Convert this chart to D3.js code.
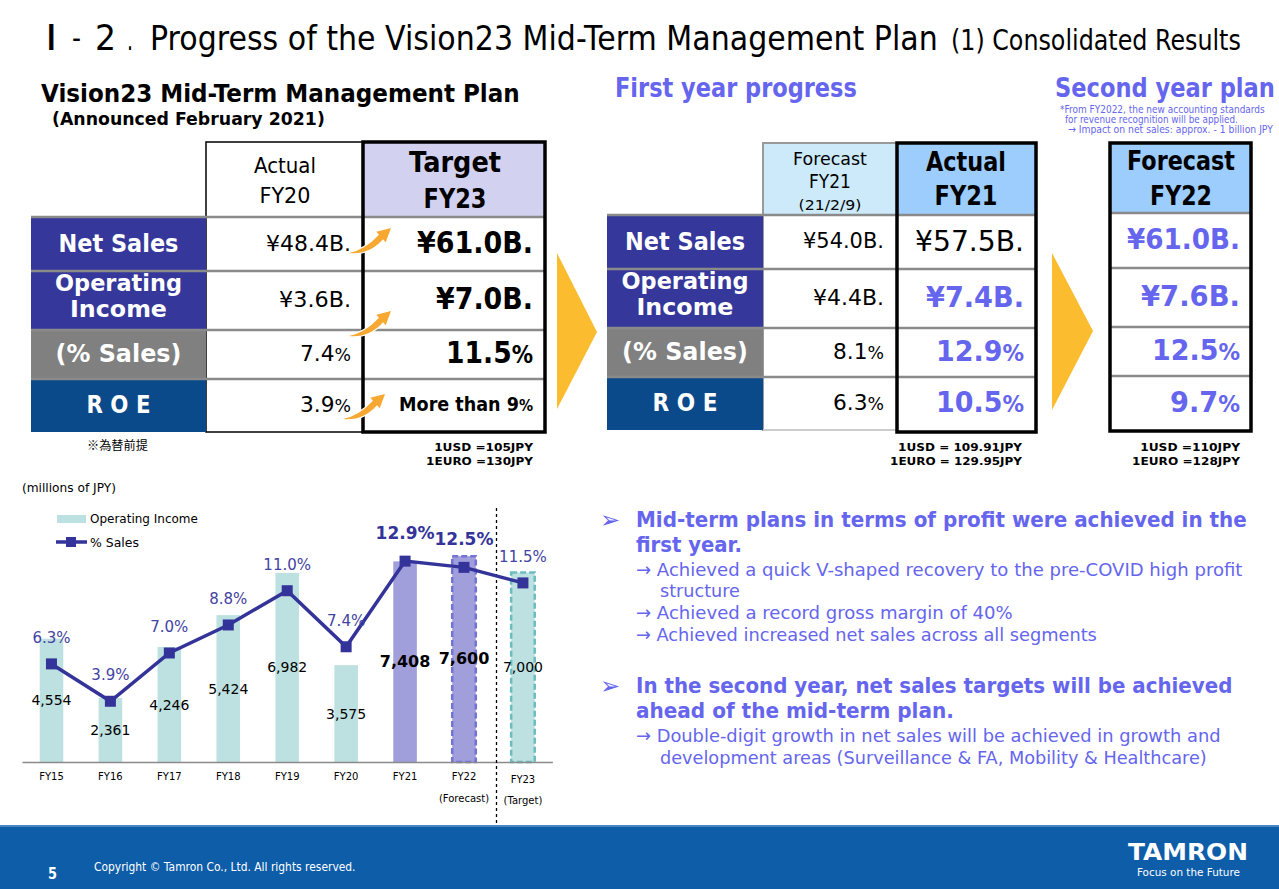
<!DOCTYPE html>
<html><head><meta charset="utf-8">
<script src="https://cdn.jsdelivr.net/npm/d3@7"></script>
<style>html,body{margin:0;padding:0;background:#fff;}svg{display:block;}</style>
</head><body>
<script>
// ---------------- DATA ----------------
const years = ["FY15","FY16","FY17","FY18","FY19","FY20","FY21","FY22","FY23"];
const opIncome = [4554, 2361, 4246, 5424, 6982, 3575, 7408, 7600, 7000];
const pctSales = [6.3, 3.9, 7.0, 8.8, 11.0, 7.4, 12.9, 12.5, 11.5];
const yearNotes = ["", "", "", "", "", "", "", "(Forecast)", "(Target)"];
const boldYears = ["FY21", "FY22"];

const rowLabels = [["Net Sales"], ["Operating", "Income"], ["(% Sales)"], ["R O E"]];
const fy20Actual = ["¥48.4B.", "¥3.6B.", "7.4%", "3.9%"];
const fy23Target = ["¥61.0B.", "¥7.0B.", "11.5%", "More than 9%"];
const fy21Forecast = ["¥54.0B.", "¥4.4B.", "8.1%", "6.3%"];
const fy21Actual = ["¥57.5B.", "¥7.4B.", "12.9%", "10.5%"];
const fy22Forecast = ["¥61.0B.", "¥7.6B.", "12.5%", "9.7%"];

// ---------------- SETUP ----------------
const F = "'DejaVu Sans', Verdana, sans-serif";
const BLUE = "#6565ee";
const NAVY = "#333399";
const svg = d3.select("body").append("svg").attr("width", 1279).attr("height", 889);
svg.append("rect").attr("width", 1279).attr("height", 889).attr("fill", "#fff");

// text helper: when a target width is given, the font is scaled so its natural
// width equals the target, and the height is restored with a vertical scale.
function txt(g, s, x, y, o = {}) {
  const fs = o.fs || 14;
  const t = g.append("text").attr("x", x).attr("y", y)
    .attr("font-family", o.ff || F).attr("font-size", fs)
    .attr("font-weight", o.fw || "normal").attr("fill", o.c || "#000")
    .attr("text-anchor", o.a || "start");
  if (o.pct && /%$/.test(s)) {
    t.append("tspan").text(s.slice(0, -1));
    t.append("tspan").attr("font-size", "0.8em").text("%");
  } else t.text(s);
  if (o.w) {
    const nat = t.node().getComputedTextLength();
    if (nat > 0) {
      const k = o.w / nat;
      t.attr("font-size", fs * k)
        .attr("transform", `translate(${x},${y}) scale(1,${1 / k}) translate(${-x},${-y})`);
    }
  }
  return t;
}

// ---------------- TITLE ----------------
txt(svg, "Ⅰ", 45, 50, {fs: 36, ff: "'Liberation Serif', serif", w: 13});
txt(svg, "-", 72, 48, {fs: 30, w: 9});
txt(svg, "2", 95, 50, {fs: 36, w: 21});
txt(svg, ".", 127, 50, {fs: 30, w: 6});
txt(svg, "Progress of the Vision23 Mid-Term Management Plan", 150, 50, {fs: 34, w: 788});
txt(svg, "(1) Consolidated Results", 951, 50, {fs: 28, w: 290});

txt(svg, "Vision23 Mid-Term Management Plan", 41, 102, {fs: 24, fw: "bold", w: 479});
txt(svg, "(Announced February 2021)", 52, 125, {fs: 17, fw: "bold", w: 273});
txt(svg, "First year progress", 615, 97, {fs: 26, fw: "bold", c: BLUE, w: 242});
txt(svg, "Second year plan", 1055, 97, {fs: 26, fw: "bold", c: BLUE, w: 220});
txt(svg, "*From FY2022, the new accounting standards", 1060, 113, {fs: 11, c: BLUE, w: 205});
txt(svg, "for  revenue recognition will be applied.", 1065, 123, {fs: 11, c: BLUE, w: 173});
txt(svg, "→ Impact on net sales: approx. - 1 billion JPY", 1068, 133, {fs: 11, c: BLUE, w: 205});

// ---------------- TABLE HELPERS ----------------
const labelFill = ["#35379a", "#35379a", "#808080", "#0b4a8a"];
function labelCells(g, x0, x1, rows, tl) {
  rowLabels.forEach((lines, i) => {
    g.append("rect").attr("x", x0).attr("y", rows[i]).attr("width", x1 - x0)
      .attr("height", rows[i + 1] - rows[i]).attr("fill", labelFill[i]);
    const cy = (rows[i] + rows[i + 1]) / 2;
    const cx = (x0 + x1) / 2;
    if (lines.length === 2) {
      txt(g, lines[0], cx, cy - 9.5, {fs: 22.5, fw: "bold", c: "#fff", a: "middle", w: tl[i][0]});
      txt(g, lines[1], cx, cy + 17, {fs: 22.5, fw: "bold", c: "#fff", a: "middle", w: tl[i][1]});
    } else {
      txt(g, lines[0], cx, cy + 8, {fs: 25, fw: "bold", c: "#fff", a: "middle", w: tl[i][0]});
    }
  });
}
function grid(g, x0, x1, rows, color = "#8a8a8a") {
  rows.slice(0, 4).forEach(y => {
    g.append("line").attr("x1", x0).attr("x2", x1).attr("y1", y).attr("y2", y)
      .attr("stroke", color).attr("stroke-width", 2.5);
  });
}
function thickBox(g, x0, x1, y0, y1) {
  g.append("rect").attr("x", x0).attr("y", y0).attr("width", x1 - x0).attr("height", y1 - y0)
    .attr("fill", "none").attr("stroke", "#000").attr("stroke-width", 3.5);
}
function valueCol(g, vals, xr, rows, o, widths) {
  vals.forEach((v, i) => {
    const cy = (rows[i] + rows[i + 1]) / 2;
    const oo = Object.assign({a: "end", pct: true}, typeof o === "function" ? o(i) : o);
    txt(g, v, xr, cy + oo.fs * 0.3, Object.assign(oo, {w: widths[i]}));
  });
}

// ---------------- LEFT TABLE ----------------
const gL = svg.append("g");
const Lrows = [217, 271, 330, 379, 432];
gL.append("rect").attr("x", 206).attr("y", 142).attr("width", 157).attr("height", 290)
  .attr("fill", "#fff").attr("stroke", "#000").attr("stroke-width", 1.5);
gL.append("rect").attr("x", 363).attr("y", 142).attr("width", 182).attr("height", 75).attr("fill", "#d2d2f0");
labelCells(gL, 31, 206, Lrows, [[120], [127, 97], [126], [64]]);
grid(gL, 31, 545, Lrows);
txt(gL, "Actual", 285, 173, {fs: 22, a: "middle", w: 62});
txt(gL, "FY20", 285, 203, {fs: 22, a: "middle", w: 51});
txt(gL, "Target", 455, 172, {fs: 29, fw: "bold", a: "middle", w: 92});
txt(gL, "FY23", 455, 208, {fs: 26, fw: "bold", a: "middle", w: 63});
valueCol(gL, fy20Actual, 351, Lrows, {fs: 22}, [85, 72, 51, 51]);
valueCol(gL, fy23Target, 533, Lrows, i => i === 3 ? {fs: 20, fw: "bold"} : {fs: 30, fw: "bold"}, [116, 97, 87, 134]);
thickBox(gL, 363, 545, 142, 432);
// orange arrows
const arrowPath = "M0,0 Q16,-3 30,-18.2 L27.3,-21.2 L42,-25 L36.7,-10.8 L34,-13.8 Q20,2 0,0 Z";
[[349, 253], [349, 336], [343, 419]].forEach(([ax, ay]) => {
  gL.append("path").attr("d", arrowPath).attr("transform", `translate(${ax},${ay})`)
    .attr("fill", "#f6a831").attr("stroke", "#fff").attr("stroke-width", 2.5)
    .attr("paint-order", "stroke");
});
txt(gL, "※為替前提", 87, 450, {fs: 12, ff: "'Noto Sans CJK JP', sans-serif", w: 61});
txt(gL, "1USD =105JPY", 533, 451, {fs: 11, fw: "bold", a: "end", w: 99});
txt(gL, "1EURO =130JPY", 533, 465, {fs: 11, fw: "bold", a: "end", w: 107});

// chevrons
const chev = [[[557, 253], [597, 332], [557, 409]], [[1052, 253], [1093, 331], [1052, 410]]];
chev.forEach(p => svg.append("path").attr("d", "M" + p.join("L") + "Z").attr("fill", "#fbbc2f"));

// ---------------- MIDDLE TABLE ----------------
const gM = svg.append("g");
const Mrows = [215, 269, 328, 377, 430];
gM.append("rect").attr("x", 763).attr("y", 143).attr("width", 134).attr("height", 72).attr("fill", "#cdeafb");
gM.append("rect").attr("x", 897).attr("y", 143).attr("width", 139).attr("height", 72).attr("fill", "#9ccdfd");
gM.append("rect").attr("x", 763).attr("y", 143).attr("width", 134).attr("height", 287)
  .attr("fill", "none").attr("stroke", "#9a9a9a").attr("stroke-width", 2);
labelCells(gM, 607, 763, Mrows, [[120], [127, 97], [126], [65]]);
grid(gM, 607, 1036, Mrows);
gM.append("line").attr("x1", 763).attr("x2", 897).attr("y1", 430).attr("y2", 430).attr("stroke", "#ccc").attr("stroke-width", 2);
txt(gM, "Forecast", 830, 165, {fs: 18, a: "middle", w: 74});
txt(gM, "FY21", 830, 188, {fs: 19, a: "middle", w: 42});
txt(gM, "(21/2/9)", 830, 210, {fs: 14, a: "middle", w: 63});
txt(gM, "Actual", 966, 171, {fs: 27, fw: "bold", a: "middle", w: 80});
txt(gM, "FY21", 966, 205, {fs: 26, fw: "bold", a: "middle", w: 63});
valueCol(gM, fy21Forecast, 884, Mrows, {fs: 21}, [81, 71, 51, 51]);
valueCol(gM, fy21Actual, 1024, Mrows, i => i === 0 ? {fs: 29} : {fs: 29, fw: "bold", c: BLUE}, [109, 98, 88, 88]);
thickBox(gM, 897, 1036, 143, 432);
txt(gM, "1USD = 109.91JPY", 1022, 451, {fs: 11, fw: "bold", a: "end", w: 124});
txt(gM, "1EURO = 129.95JPY", 1022, 465, {fs: 11, fw: "bold", a: "end", w: 132});

// ---------------- RIGHT TABLE ----------------
const gR = svg.append("g");
const Rrows = [213, 268, 327, 376, 431];
gR.append("rect").attr("x", 1110).attr("y", 143).attr("width", 141).attr("height", 70).attr("fill", "#9ccdfd");
grid(gR, 1110, 1251, Rrows);
txt(gR, "Forecast", 1181, 170, {fs: 27, fw: "bold", a: "middle", w: 108});
txt(gR, "FY22", 1181, 205, {fs: 26, fw: "bold", a: "middle", w: 62});
valueCol(gR, fy22Forecast, 1240, Rrows, {fs: 29, fw: "bold", c: BLUE}, [113, 99, 88, 70]);
thickBox(gR, 1110, 1251, 143, 431);
txt(gR, "1USD =110JPY", 1240, 451, {fs: 11, fw: "bold", a: "end", w: 100});
txt(gR, "1EURO =128JPY", 1240, 465, {fs: 11, fw: "bold", a: "end", w: 108});

// ---------------- CHART ----------------
const gC = svg.append("g");
const x = d3.scaleBand().domain(years).range([22, 552.4]).paddingInner(0.6).paddingOuter(0.3);
const yB = d3.scaleLinear().domain([0, 8050]).range([762, 544]);
const yP = d3.scaleLinear().domain([0, 14]).range([762, 544]);
const bw = x.bandwidth();
const data = years.map((y, i) => ({year: y, v: opIncome[i], p: pctSales[i], note: yearNotes[i]}));

txt(gC, "(millions of JPY)", 22, 492, {fs: 12, w: 94});

const fillOf = d => d.year === "FY21" || d.year === "FY22" ? "#a09fdc" : "#bde0e0";
gC.selectAll("rect.bar").data(data).join("rect").attr("class", "bar")
  .attr("x", d => x(d.year)).attr("width", bw)
  .attr("y", d => yB(d.v)).attr("height", d => yB(0) - yB(d.v))
  .attr("fill", fillOf)
  .attr("stroke", d => d.note === "(Forecast)" ? "#7373d6" : d.note === "(Target)" ? "#6cbdbf" : "none")
  .attr("stroke-width", 2.5).attr("stroke-dasharray", "6,3");

// axis
const ax = gC.append("g").attr("transform", `translate(0,${yB(0)})`)
  .call(d3.axisBottom(x).tickSize(0).tickSizeOuter(0).tickPadding(11));
ax.select(".domain").attr("stroke", "#8a8a8a").attr("stroke-width", 1.5);
ax.selectAll("text").attr("font-family", F).attr("font-size", 10).attr("fill", "#000")
  .attr("dy", d => d === "FY23" ? "1.0em" : "0.71em");
data.filter(d => d.note).forEach(d => {
  txt(gC, d.note, x(d.year) + bw / 2, d.note === "(Target)" ? 804 : 802, {fs: 10, a: "middle"});
});

// dashed separator
gC.append("line").attr("x1", 496.5).attr("x2", 496.5).attr("y1", 508).attr("y2", 825)
  .attr("stroke", "#000").attr("stroke-width", 1.3).attr("stroke-dasharray", "3,3");

// line
const line = d3.line().x(d => x(d.year) + bw / 2).y(d => yP(d.p));
gC.append("path").datum(data).attr("d", line).attr("fill", "none")
  .attr("stroke", NAVY).attr("stroke-width", 3.5);
gC.selectAll("rect.mk").data(data).join("rect").attr("class", "mk")
  .attr("x", d => x(d.year) + bw / 2 - 5.5).attr("y", d => yP(d.p) - 5.5)
  .attr("width", 11).attr("height", 11).attr("fill", NAVY);

// labels
data.forEach(d => {
  const b = boldYears.includes(d.year);
  const cx = x(d.year) + bw / 2;
  txt(gC, d3.format(".1f")(d.p) + "%", cx, yP(d.p) - (b ? 22 : 21),
    {fs: b ? 17 : 15, fw: b ? "bold" : "normal", c: b ? NAVY : "#4343a3", a: "middle"});
  txt(gC, d3.format(",")(d.v), cx, yB(d.v / 2) + 5,
    {fs: b ? 16 : 14, fw: b ? "bold" : "normal", a: "middle"});
});

// legend
gC.append("rect").attr("x", 57).attr("y", 515).attr("width", 29).attr("height", 8).attr("fill", "#bde0e0");
txt(gC, "Operating Income", 90, 523, {fs: 13, w: 108});
gC.append("line").attr("x1", 56).attr("x2", 87).attr("y1", 542).attr("y2", 542).attr("stroke", NAVY).attr("stroke-width", 3.5);
gC.append("rect").attr("x", 66).attr("y", 537).attr("width", 10).attr("height", 10).attr("fill", NAVY);
txt(gC, "% Sales", 90, 547, {fs: 13, w: 49});

// ---------------- BULLETS ----------------
const gB = svg.append("g");
txt(gB, "➢", 600, 528, {fs: 24, c: BLUE});
txt(gB, "➢", 600, 694, {fs: 24, c: BLUE});
const bul = [
  ["Mid-term plans in terms of profit were achieved in the", 636, 527, 22, "bold", 611],
  ["first year.", 636, 552, 22, "bold", 106],
  ["→ Achieved a quick V-shaped recovery to the pre-COVID high profit", 636, 576, 18.5, "normal", 607],
  ["structure", 660, 597, 18.5, "normal", 80],
  ["→ Achieved a record gross margin of 40%", 636, 619, 18.5, "normal", 377],
  ["→ Achieved increased net sales across all segments", 636, 641, 18.5, "normal", 461],
  ["In the second year, net sales targets will be achieved", 636, 693, 22, "bold", 597],
  ["ahead of the mid-term plan.", 636, 718, 22, "bold", 318],
  ["→ Double-digit growth in net sales will be achieved in growth and", 636, 742, 18.5, "normal", 585],
  ["development areas (Surveillance & FA, Mobility & Healthcare)", 660, 764, 18.5, "normal", 547]
];
bul.forEach(b => txt(gB, b[0], b[1], b[2], {fs: b[3], fw: b[4], c: BLUE, w: b[5]}));

// ---------------- FOOTER ----------------
svg.append("rect").attr("x", 0).attr("y", 825).attr("width", 1279).attr("height", 64).attr("fill", "#0d5da9");
svg.append("rect").attr("x", 0).attr("y", 825).attr("width", 1279).attr("height", 2).attr("fill", "#4a86c2");
txt(svg, "5", 48, 879, {fs: 15, fw: "bold", c: "#fff", w: 9});
txt(svg, "Copyright © Tamron Co., Ltd. All rights reserved.", 94, 871, {fs: 12, c: "#fff", w: 262});
txt(svg, "TAMRON", 1128, 860, {fs: 23, fw: "bold", c: "#fff", w: 120});
txt(svg, "Focus on the Future", 1137, 876, {fs: 10.5, c: "#fff", w: 103});
</script>
</body></html>
